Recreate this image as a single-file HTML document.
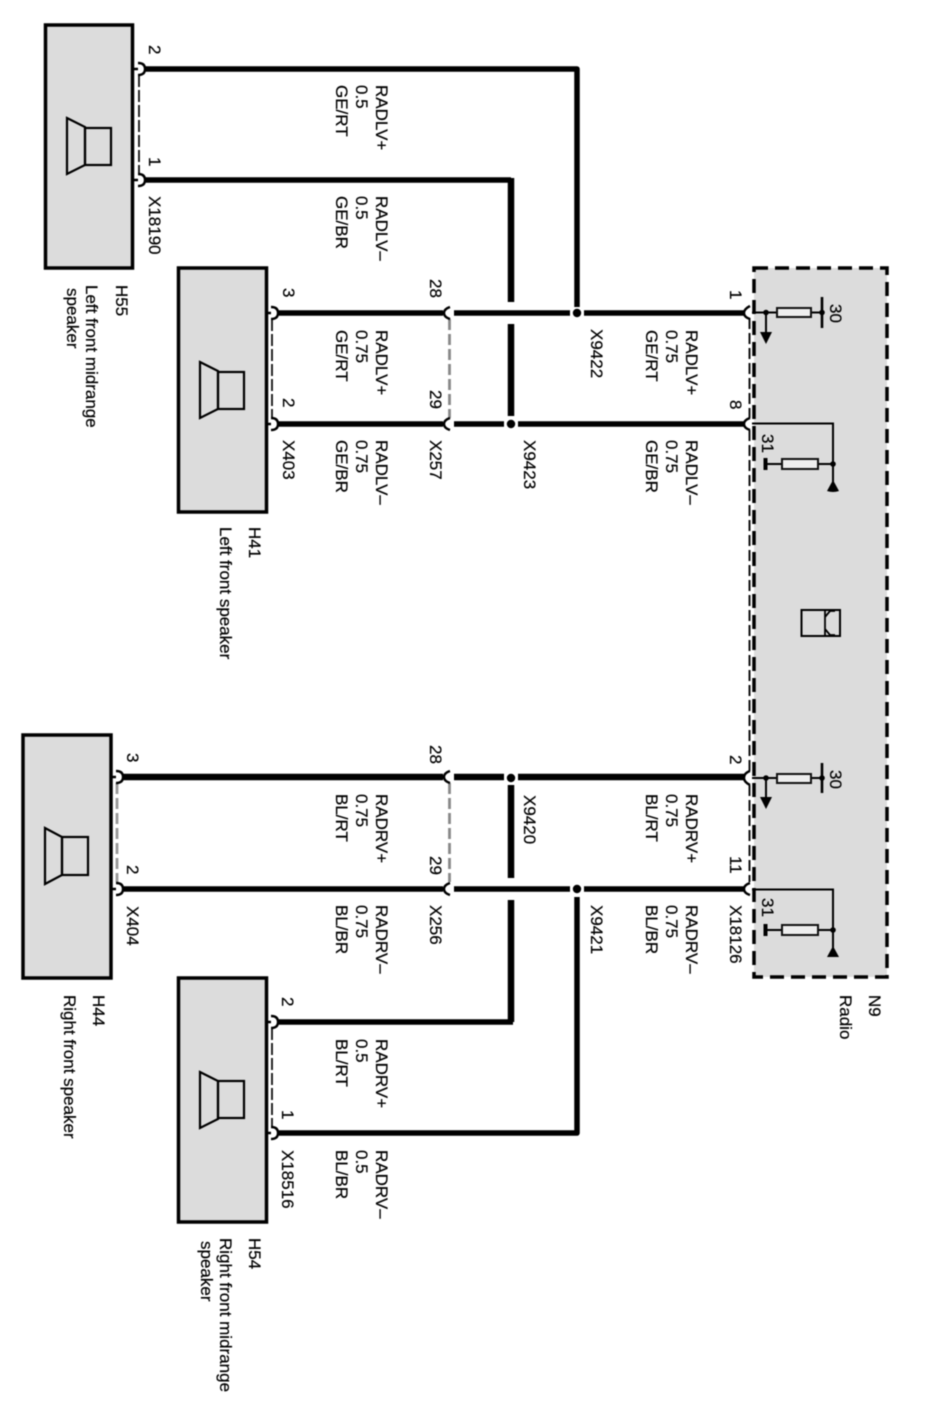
<!DOCTYPE html>
<html><head><meta charset="utf-8"><style>
html,body{margin:0;padding:0;background:#fff}
svg{display:block;filter:blur(.6px)}
text{font-family:"Liberation Sans",sans-serif;font-size:17px;fill:#000;stroke:#000;stroke-width:.2px}
.box{fill:#dcdcdc;stroke:#000;stroke-width:3.5}
.cone{fill:none;stroke:#000;stroke-width:2.2}
.w{fill:none;stroke:#000;stroke-linejoin:round}
.c{fill:none;stroke:#000;stroke-width:2.4}
.t{stroke:#000;stroke-width:2;fill:none}
.r{fill:#eee;stroke:#111;stroke-width:2}
</style></head><body>
<svg width="932" height="1426" viewBox="0 0 932 1426" xmlns="http://www.w3.org/2000/svg">
<rect x="0" y="0" width="932" height="1426" fill="#fff"/>
<!-- radio -->
<rect x="754" y="268" width="133" height="709" fill="#dcdcdc"/>
<rect x="754" y="268" width="133" height="709" fill="none" stroke="#000" stroke-width="3.5" stroke-dasharray="14 7"/>
<!-- boxes -->
<rect class="box" x="45.5" y="25" width="87" height="243"/>
<rect class="box" x="178.5" y="268" width="88" height="244"/>
<rect class="box" x="23" y="735" width="88" height="243"/>
<rect class="box" x="178.5" y="978" width="88" height="244"/>
<!-- speakers -->
<g class="cone"><path d="M67 118L85 127V165L67 174Z"/><rect x="85" y="128" width="26" height="37"/></g>
<g class="cone"><path d="M200 362L218 371V409L200 418Z"/><rect x="218" y="372" width="26" height="37"/></g>
<g class="cone"><path d="M45 828L62 837V875L45 884Z"/><rect x="62" y="837" width="26" height="38"/></g>
<g class="cone"><path d="M200 1072L218 1081V1119L200 1128Z"/><rect x="218" y="1081" width="26" height="37"/></g>
<!-- dashed links -->
<path d="M139 75V174" stroke="#111" stroke-width="1.8" fill="none" stroke-dasharray="12 3"/>
<path d="M272 319V418" stroke="#111" stroke-width="1.8" fill="none" stroke-dasharray="12 3"/>
<path d="M272 1028V1127" stroke="#111" stroke-width="1.8" fill="none" stroke-dasharray="12 3"/>
<path d="M117 783V882" stroke="#999" stroke-width="2.8" fill="none" stroke-dasharray="11 4"/>
<path d="M449.500 319V418" stroke="#888" stroke-width="2.8" fill="none" stroke-dasharray="11 4"/>
<path d="M449.500 783V882" stroke="#888" stroke-width="2.8" fill="none" stroke-dasharray="11 4"/>
<path d="M749.500 318V418M749.500 430V771M749.500 785V882" stroke="#111" stroke-width="2" fill="none" stroke-dasharray="11 4"/>
<!-- wires -->
<path class="w" stroke-width="5.500" d="M145 69H577V307"/>
<path class="w" stroke-width="5.500" d="M145 180H511"/>
<path class="w" stroke-width="6.500" d="M511 178V302M511 324V416"/>
<path class="w" stroke-width="5.500" d="M277 313H443M454 313H570M584 313H744"/>
<path class="w" stroke-width="5.500" d="M277 424H443M454 424H504M518 424H744"/>
<path class="w" stroke-width="6.500" d="M122 777H443M454 777H504M518 777H744"/>
<path class="w" stroke-width="5.500" d="M122 889H443M454 889H570M584 889H744"/>
<path class="w" stroke-width="6.500" d="M511 785V878M511 900V1022"/>
<path class="w" stroke-width="5.500" d="M277 1022H513"/>
<path class="w" stroke-width="5.500" d="M577 897V1133H277"/>
<!-- dots -->
<circle cx="577" cy="313" r="4.200"/><circle cx="511" cy="424" r="4.200"/><circle cx="511" cy="778" r="4.200"/><circle cx="577" cy="889" r="4.200"/>
<!-- connector chevrons -->
<g class="c">
<path d="M138 63Q145 63 145 69Q145 75 138 75M134 69H138"/>
<path d="M138 174Q145 174 145 180Q145 186 138 186M134 180H138"/>
<path d="M271 307Q278 307 278 313Q278 319 271 319M267 313H271"/>
<path d="M271 418Q278 418 278 424Q278 430 271 430M267 424H271"/>
<path d="M116 771Q123 771 123 777Q123 783 116 783M112 777H116"/>
<path d="M116 883Q123 883 123 889Q123 895 116 895M112 889H116"/>
<path d="M271 1016Q278 1016 278 1022Q278 1028 271 1028M267 1022H271"/>
<path d="M271 1127Q278 1127 278 1133Q278 1139 271 1139M267 1133H271"/>
<path d="M450 307Q444 309 444 313Q444 317 450 319"/>
<path d="M450 418Q444 420 444 424Q444 428 450 430"/>
<path d="M450 771Q444 773 444 777Q444 781 450 783"/>
<path d="M450 883Q444 885 444 889Q444 893 450 895"/>
<path d="M750 306Q744 309 744 313Q744 317 750 319"/>
<path d="M750 418Q744 420 744 424Q744 428 750 430"/>
<path d="M750 771Q744 773 744 778Q744 782 750 785"/>
<path d="M750 883Q744 885 744 889Q744 893 750 895"/>
</g>
<!-- radio internals top 30 -->
<path class="t" d="M752 312.500H777M811 312.500H822M766 312.500V334"/>
<rect class="r" x="777" y="308" width="34" height="9"/>
<path d="M822 297V328" stroke="#000" stroke-width="2.600"/>
<circle cx="766" cy="312.500" r="2.800"/><circle cx="822" cy="312.500" r="2.800"/>
<path d="M760 332H772L766 344Z"/>
<!-- bottom 30 -->
<path class="t" d="M752 778H777M811 778H822M766 778V798"/>
<rect class="r" x="777" y="774" width="34" height="9"/>
<path d="M822 763V793" stroke="#000" stroke-width="2.600"/>
<circle cx="766" cy="778" r="2.800"/><circle cx="822" cy="778" r="2.800"/>
<path d="M760 797H772L766 809Z"/>
<!-- top 31 -->
<path class="t" d="M752 423.500H833V484M765 464H782M818 464H833"/>
<rect class="r" x="782" y="459" width="36" height="10"/>
<path d="M765.500 458V470" stroke="#000" stroke-width="4"/>
<circle cx="833" cy="464" r="2.800"/>
<path d="M833 480L839 491Q833 493 827 491Z"/>
<!-- bottom 31 -->
<path class="t" d="M752 889.500H833V950M765 930H782M818 930H833"/>
<rect class="r" x="782" y="925" width="36" height="10"/>
<path d="M765.500 924V936" stroke="#000" stroke-width="4"/>
<circle cx="833" cy="930" r="2.800"/>
<path d="M833 946L839 957H827Z"/>
<!-- radio icon -->
<rect x="801.500" y="610" width="38.500" height="26" fill="none" stroke="#000" stroke-width="2"/>
<path d="M825 610V636M825 617L830 611H835M825 629L830 635H835" fill="none" stroke="#000" stroke-width="1.800"/>
<!-- labels -->
<g transform="translate(1 0)">
<text transform="translate(148 45) rotate(90)">2</text>
<text transform="translate(148 157) rotate(90)">1</text>
<text transform="translate(148 196) rotate(90)">X18190</text>
<text transform="translate(115 285) rotate(90)">H55</text>
<text transform="translate(85 285) rotate(90)">Left front midrange</text>
<text transform="translate(66 288) rotate(90)">speaker</text>

<text transform="translate(375 85) rotate(90)">RADLV+</text>
<text transform="translate(355 85) rotate(90)">0.5</text>
<text transform="translate(335 85) rotate(90)">GE/RT</text>
<text transform="translate(375 196) rotate(90)">RADLV–</text>
<text transform="translate(355 196) rotate(90)">0.5</text>
<text transform="translate(335 196) rotate(90)">GE/BR</text>

<text transform="translate(282 288) rotate(90)">3</text>
<text transform="translate(282 398) rotate(90)">2</text>
<text transform="translate(282 440) rotate(90)">X403</text>
<text transform="translate(248 527) rotate(90)">H41</text>
<text transform="translate(219 527) rotate(90)">Left front speaker</text>

<text transform="translate(375 330) rotate(90)">RADLV+</text>
<text transform="translate(355 330) rotate(90)">0.75</text>
<text transform="translate(335 330) rotate(90)">GE/RT</text>
<text transform="translate(375 440) rotate(90)">RADLV–</text>
<text transform="translate(355 440) rotate(90)">0.75</text>
<text transform="translate(335 440) rotate(90)">GE/BR</text>

<text transform="translate(429 279) rotate(90)">28</text>
<text transform="translate(429 390) rotate(90)">29</text>
<text transform="translate(429 440) rotate(90)">X257</text>
<text transform="translate(590 329) rotate(90)">X9422</text>
<text transform="translate(523 440) rotate(90)">X9423</text>

<text transform="translate(685 330) rotate(90)">RADLV+</text>
<text transform="translate(665 330) rotate(90)">0.75</text>
<text transform="translate(645 330) rotate(90)">GE/RT</text>
<text transform="translate(685 440) rotate(90)">RADLV–</text>
<text transform="translate(665 440) rotate(90)">0.75</text>
<text transform="translate(645 440) rotate(90)">GE/BR</text>

<text transform="translate(729 290) rotate(90)">1</text>
<text transform="translate(729 400) rotate(90)">8</text>
<text transform="translate(829 304) rotate(90)">30</text>
<text transform="translate(761 434) rotate(90)">31</text>

<text transform="translate(126 753) rotate(90)">3</text>
<text transform="translate(126 865) rotate(90)">2</text>
<text transform="translate(126 906) rotate(90)">X404</text>
<text transform="translate(92 995) rotate(90)">H44</text>
<text transform="translate(63 995) rotate(90)">Right front speaker</text>

<text transform="translate(375 794) rotate(90)">RADRV+</text>
<text transform="translate(355 794) rotate(90)">0.75</text>
<text transform="translate(335 794) rotate(90)">BL/RT</text>
<text transform="translate(375 905) rotate(90)">RADRV–</text>
<text transform="translate(355 905) rotate(90)">0.75</text>
<text transform="translate(335 905) rotate(90)">BL/BR</text>

<text transform="translate(429 745) rotate(90)">28</text>
<text transform="translate(429 856) rotate(90)">29</text>
<text transform="translate(429 905) rotate(90)">X256</text>
<text transform="translate(523 795) rotate(90)">X9420</text>
<text transform="translate(590 905) rotate(90)">X9421</text>

<text transform="translate(685 794) rotate(90)">RADRV+</text>
<text transform="translate(665 794) rotate(90)">0.75</text>
<text transform="translate(645 794) rotate(90)">BL/RT</text>
<text transform="translate(685 905) rotate(90)">RADRV–</text>
<text transform="translate(665 905) rotate(90)">0.75</text>
<text transform="translate(645 905) rotate(90)">BL/BR</text>

<text transform="translate(729 755) rotate(90)">2</text>
<text transform="translate(729 856) rotate(90)">11</text>
<text transform="translate(729 905) rotate(90)">X18126</text>
<text transform="translate(829 770) rotate(90)">30</text>
<text transform="translate(761 898) rotate(90)">31</text>
<text transform="translate(868 995) rotate(90)">N9</text>
<text transform="translate(839 995) rotate(90)">Radio</text>

<text transform="translate(281 997) rotate(90)">2</text>
<text transform="translate(281 1110) rotate(90)">1</text>
<text transform="translate(281 1150) rotate(90)">X18516</text>
<text transform="translate(375 1039) rotate(90)">RADRV+</text>
<text transform="translate(355 1039) rotate(90)">0.5</text>
<text transform="translate(335 1039) rotate(90)">BL/RT</text>
<text transform="translate(375 1150) rotate(90)">RADRV–</text>
<text transform="translate(355 1150) rotate(90)">0.5</text>
<text transform="translate(335 1150) rotate(90)">BL/BR</text>
<text transform="translate(248 1238) rotate(90)">H54</text>
<text transform="translate(219 1238) rotate(90)">Right front midrange</text>
<text transform="translate(200 1241) rotate(90)">speaker</text>
</g>
</svg>
</body></html>
